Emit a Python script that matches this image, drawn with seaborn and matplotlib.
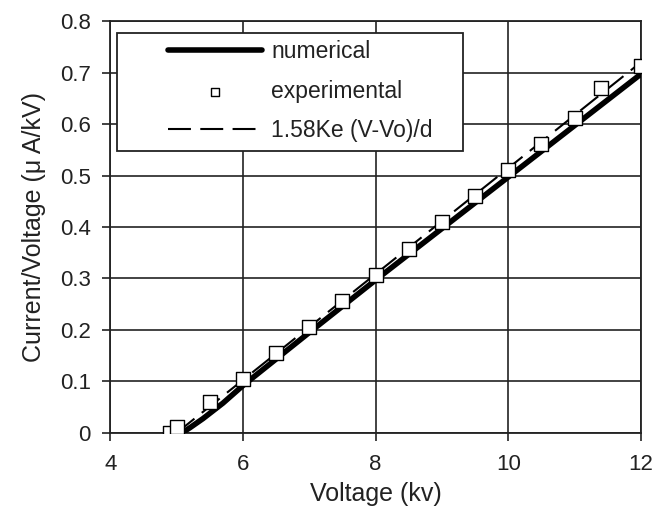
import matplotlib
matplotlib.use("Agg")
import matplotlib.pyplot as plt
import seaborn as sns
import pandas as pd
from matplotlib.patches import Rectangle

# ---- data ----
exp_v = [4.9, 5.0, 5.5, 6.0, 6.5, 7.0, 7.5, 8.0, 8.5, 9.0, 9.5, 10.0, 10.5, 11.0, 11.4, 12.0]
exp_r = [0.0, 0.012, 0.06, 0.105, 0.155, 0.205, 0.257, 0.307, 0.358, 0.41, 0.46, 0.51, 0.562, 0.612, 0.67, 0.713]

num_v = [5.08, 5.2, 5.4, 5.7, 6.0, 7.0, 8.0, 9.0, 10.0, 11.0, 12.0]
num_r = [0.0, 0.01, 0.028, 0.058, 0.092, 0.195, 0.297, 0.397, 0.497, 0.597, 0.697]

fit_v = [5.0, 12.0]
fit_r = [0.0, 0.72]

x_ticks = [4, 6, 8, 10, 12]
y_ticks = [0, 0.1, 0.2, 0.3, 0.4, 0.5, 0.6, 0.7, 0.8]
y_tick_labels = ["0", "0.1", "0.2", "0.3", "0.4", "0.5", "0.6", "0.7", "0.8"]

labels = ["numerical", "experimental", "1.58Ke (V-Vo)/d"]

sns.set_theme(style="white")
plt.rcParams["font.family"] = ["Liberation Sans", "DejaVu Sans"]

fig = plt.figure(figsize=(6.52, 5.13), dpi=100)
ax = fig.add_axes([0.169, 0.156, 0.814, 0.803])

df_num = pd.DataFrame({"V": num_v, "R": num_r})
df_fit = pd.DataFrame({"V": fit_v, "R": fit_r})
df_exp = pd.DataFrame({"V": exp_v, "R": exp_r})

sns.lineplot(data=df_num, x="V", y="R", ax=ax, color="black", lw=4.0,
             label=labels[0], sort=False, zorder=3)
sns.scatterplot(data=df_exp, x="V", y="R", ax=ax, marker="s", s=90,
                facecolor="white", edgecolor="black", linewidth=1.0,
                label=labels[1], zorder=4)
sns.lineplot(data=df_fit, x="V", y="R", ax=ax, color="black", lw=1.5,
             label=labels[2], sort=False, zorder=3.5)
ax.lines[-1].set_dashes([11, 4.5])

ax.set_xlim(4, 12)
ax.set_ylim(0, 0.8)
ax.set_xticks(x_ticks)
ax.set_yticks(y_ticks)
ax.set_yticklabels(y_tick_labels)
ax.grid(True, color="#222222", lw=1.2)
ax.set_axisbelow(True)
for s in ax.spines.values():
    s.set_color("#222222")
    s.set_linewidth(1.3)
ax.tick_params(axis="both", direction="out", length=6, width=1.2, color="#222222",
               labelsize=16, labelcolor="#222222", left=True, bottom=True)
ax.tick_params(axis="y", pad=8)
ax.tick_params(axis="x", pad=9)
ax.set_xlabel("Voltage (kv)", fontsize=18, color="#222222", labelpad=5)
ax.set_ylabel("Current/Voltage (μ A/kV)", fontsize=18, color="#222222", labelpad=10)

# legend frame
rect = Rectangle((0.013, 0.685), 0.652, 0.286, transform=ax.transAxes,
                 facecolor="white", edgecolor="#222222", lw=1.3, zorder=4.8)
ax.add_patch(rect)

handles, lbls = ax.get_legend_handles_labels()
leg = ax.legend(handles, lbls, loc="upper left", bbox_to_anchor=(0.092, 0.975),
                frameon=False, fontsize=16.5, handlelength=4.1, handletextpad=0.4,
                labelspacing=0.72, borderaxespad=0, markerscale=0.6)
leg.set_zorder(5)
for t in leg.get_texts():
    t.set_color("#222222")

fig.savefig("out.png", dpi=100)
